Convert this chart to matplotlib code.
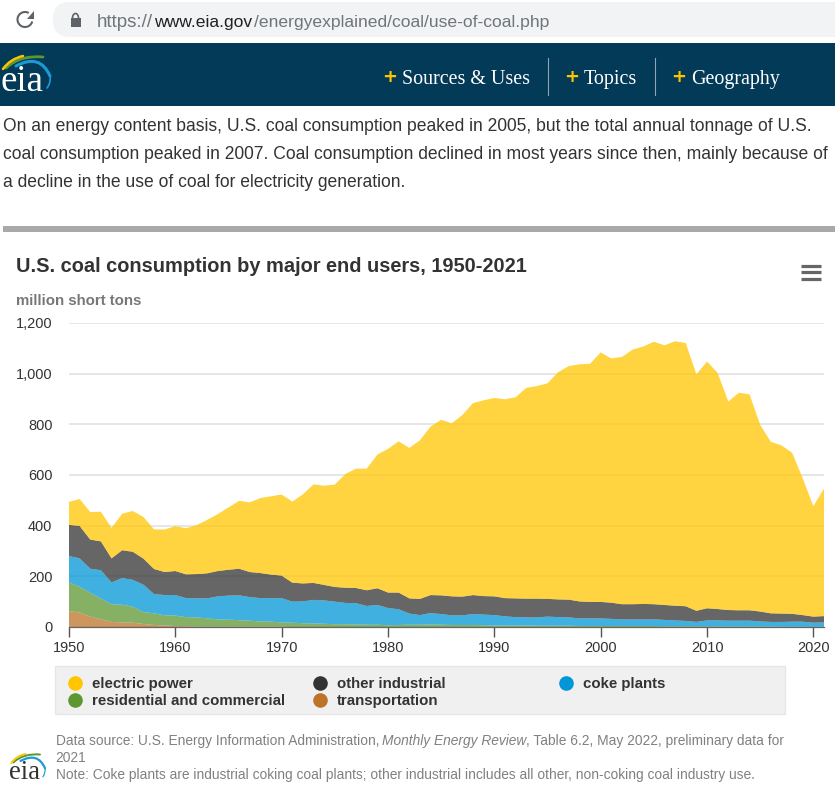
import numpy as np
import matplotlib
matplotlib.use('Agg')
import matplotlib.pyplot as plt
from matplotlib.patches import Rectangle, FancyBboxPatch, Arc, Polygon, PathPatch
from matplotlib.path import Path

W, H = 835, 797

years = list(range(1950, 2022))

transportation = [63, 57, 41, 30, 20, 18, 17, 12, 8, 6, 4, 3, 2, 1, 1, 1, 1, 1, 1, 1, 1,
                  0, 0, 0, 0, 0, 0, 0, 0, 0, 0, 0, 0, 0, 0, 0, 0, 0, 0, 0,
                  0, 0, 0, 0, 0, 0, 0, 0, 0, 0, 0, 0, 0, 0, 0, 0, 0, 0, 0, 0,
                  0, 0, 0, 0, 0, 0, 0, 0, 0, 0, 0, 0]
residential = [113, 102, 94, 82, 70, 70, 63, 47, 46, 40, 41, 36, 36, 33, 29, 28, 26, 24, 21, 20,
               17, 17, 15, 14, 13, 11, 11, 10, 9, 9, 7, 8, 9, 9, 10, 9, 8, 8, 8, 7,
               6, 6, 6, 6, 5, 5, 5, 5, 4, 4, 4, 4, 4, 4, 4, 4, 3, 3, 3, 3,
               3, 2, 2, 2, 2, 2, 2, 1, 1, 1, 1, 1]
coke_plants = [104, 112, 95, 112, 86, 105, 106, 108, 76, 80, 81, 75, 75, 79, 91, 95, 98, 93, 92, 93,
               96, 83, 86, 93, 92, 89, 84, 84, 74, 78, 68, 62, 44, 38, 45, 42, 38, 38, 43, 42,
               41, 36, 33, 32, 33, 36, 34, 33, 30, 30, 30, 28, 26, 26, 26, 26, 25, 23, 21, 17,
               23, 24, 23, 23, 23, 20, 18, 19, 20, 20, 16, 17]
other_industrial = [123, 128, 115, 114, 95, 110, 111, 103, 99, 91, 95, 94, 96, 99, 100, 102, 105, 99, 99, 93,
                    89, 75, 71, 67, 61, 58, 60, 60, 62, 66, 61, 66, 60, 64, 71, 74, 75, 74, 75, 73,
                    74, 72, 74, 74, 74, 70, 70, 70, 67, 65, 65, 64, 60, 60, 61, 60, 59, 58, 58, 44,
                    48, 45, 42, 41, 41, 39, 34, 33, 31, 26, 24, 25]
electric_power = [91, 106, 109, 117, 120, 144, 161, 164, 156, 168, 177, 182, 193, 211, 225, 246, 268, 275, 296, 309,
                  320, 320, 352, 389, 392, 404, 449, 471, 480, 528, 567, 597, 594, 626, 665, 693, 683, 717, 758, 773,
                  783, 785, 794, 832, 839, 851, 897, 922, 936, 940, 985, 964, 976, 1005, 1016, 1036, 1025, 1044, 1039, 933,
                  974, 932, 823, 859, 852, 737, 677, 664, 636, 540, 436, 503]

colors = ['#bd732a', '#5d9732', '#0096d7', '#333333', '#ffc600']
y_ticks = [0, 200, 400, 600, 800, 1000, 1200]
y_labels = ['0', '200', '400', '600', '800', '1,000', '1,200']
x_ticks = [1950, 1960, 1970, 1980, 1990, 2000, 2010, 2020]

SANS = 'Liberation Sans'
SERIF = 'Liberation Serif'


def px(size):
    return size * 0.72


def swoosh(ax, x, y, scale, pts, color, lw):
    # quadratic curve through 3 points given relative to the logo origin
    verts = [(x + a * scale, y + b * scale) for a, b in pts]
    ax.add_patch(PathPatch(Path(verts, [Path.MOVETO, Path.CURVE3, Path.CURVE3]), fc='none', ec=color,
                           lw=lw * scale, capstyle='round'))


def eia_logo(ax, x, y, scale, color):
    # x, y is the left end of the word's baseline
    ax.text(x, y, 'eia', family=SERIF, fontsize=px(37 * scale), color=color, va='baseline', ha='left')
    swoosh(ax, x, y, scale, [(16, -25), (40, -38), (50, -15)], '#1c9ad6', 2.2)
    swoosh(ax, x, y, scale, [(50, -15), (51, -8), (47, -3)], '#1c9ad6', 1.2)
    swoosh(ax, x, y, scale, [(6, -23), (20, -36), (43, -34)], '#5d9732', 2)
    swoosh(ax, x, y, scale, [(3, -22), (10, -32), (23, -35)], '#ffc600', 1.8)


fig = plt.figure(figsize=(W / 100, H / 100), dpi=100, facecolor='white')

# chart
ax = fig.add_axes([69 / W, 1 - 627 / H, (824 - 69) / W, (627 - 323) / H])
ax.stackplot(years, transportation, residential, coke_plants, other_industrial, electric_power,
             colors=colors, alpha=0.75, linewidth=0, zorder=3)
ax.set_xlim(1950, 2021)
ax.set_ylim(0, 1200)
ax.set_xticks(x_ticks)
ax.set_yticks(y_ticks)
ax.set_yticklabels(y_labels)
ax.grid(axis='y', color='#e6e6e6', lw=1.4, zorder=1)
ax.set_axisbelow(True)
for name in ['top', 'right', 'left']:
    ax.spines[name].set_visible(False)
ax.spines['bottom'].set_color('#666666')
ax.spines['bottom'].set_linewidth(0.9)
ax.spines['bottom'].set_zorder(5)
ax.tick_params(axis='x', length=7, width=1, color='#555555', labelsize=px(14.5), labelcolor='#333333', pad=3)
ax.tick_params(axis='y', length=0, labelsize=px(14.5), labelcolor='#333333', pad=12)
for lab in ax.get_xticklabels() + ax.get_yticklabels():
    lab.set_family(SANS)

# everything around the chart, in screenshot pixels
pg = fig.add_axes([0, 0, 1, 1], zorder=10)
pg.set_xlim(0, W)
pg.set_ylim(H, 0)
pg.axis('off')
pg.patch.set_alpha(0)

# browser bar
pg.add_patch(FancyBboxPatch((53, 2), 820, 35, boxstyle='round,pad=0,rounding_size=17', fc='#f1f3f4', ec='none'))
pg.add_patch(Arc((25, 19.5), 15, 15, theta1=15, theta2=300, color='#5f6368', lw=1.5))
pg.add_patch(Polygon([(34, 11), (34, 19), (26.5, 19)], fc='#5f6368', ec='none'))
pg.add_patch(Rectangle((70.5, 18), 10, 9, fc='#5f6368', ec='none'))
pg.add_patch(Arc((75.5, 18), 6, 9, theta1=180, theta2=360, color='#5f6368', lw=1.2))
url_parts = [(97, 'https://', '#70757a', 18.8), (154, 'www.eia.gov', '#202124', 17.5),
             (254.5, '/energyexplained/coal/use-of-coal.php', '#70757a', 17.5)]
for x, part, c, size in url_parts:
    pg.text(x, 26.5, part, family=SANS, fontsize=px(size), color=c, va='baseline')

# site header
pg.add_patch(Rectangle((0, 43), W, 63, fc='#023a57', ec='none'))
eia_logo(pg, 0, 91, 1, 'white')
for x, label, tx in [(390, 'Sources & Uses', 402), (572, 'Topics', 584), (679, 'Geography', 691)]:
    pg.text(x, 77, '+', family='DejaVu Sans', fontweight='bold', fontsize=px(18), color='#ffc400', ha='center', va='center')
    pg.text(tx, 84, label, family=SERIF, fontsize=px(20), color='white', va='baseline')
pg.plot([548, 548], [58, 95], color='#8fa6b3', lw=0.8)
pg.plot([655, 655], [58, 95], color='#8fa6b3', lw=0.8)

# intro paragraph
intro = ['On an energy content basis, U.S. coal consumption peaked in 2005, but the total annual tonnage of U.S.',
         'coal consumption peaked in 2007. Coal consumption declined in most years since then, mainly because of',
         'a decline in the use of coal for electricity generation.']
for i, line in enumerate(intro):
    pg.text(3, 131 + i * 28, line, family=SANS, fontsize=px(17.52), color='#333333', va='baseline')
pg.add_patch(Rectangle((3, 226), W, 6, fc='#a9a9a9', ec='none'))

# chart title
pg.text(16, 272, 'U.S. coal consumption by major end users, 1950-2021', family=SANS, fontweight='bold',
        fontsize=px(19.95), color='#333333', va='baseline')
pg.text(16, 305, 'million short tons', family=SANS, fontweight='bold', fontsize=px(15), color='#777777', va='baseline')
for y in [265.5, 272, 278.5]:
    pg.plot([800.5, 820.5], [y, y], color='#666666', lw=2.3, solid_capstyle='butt')

# legend
pg.add_patch(Rectangle((55, 665.5), 730, 48, fc='#f0f0f0', ec='#e6e6e6', lw=1))
legend_rows = [(75, 683, colors[4], 'electric power'), (320, 683, colors[3], 'other industrial'),
               (566, 683, colors[2], 'coke plants'), (75, 700, colors[1], 'residential and commercial'),
               (320, 700, colors[0], 'transportation')]
for x, y, c, label in legend_rows:
    pg.plot([x], [y], 'o', ms=10.5, color=c, mec='none')
    pg.text(x + 17, y + 5, label, family=SANS, fontweight='bold', fontsize=px(15), color='#333333', va='baseline')

# source notes
eia_logo(pg, 9, 779, 0.72, '#333333')
note_font = dict(family=SANS, fontsize=px(13.72), color='#808080', va='baseline')
pg.text(55.5, 745.5, 'Data source: U.S. Energy Information Administration,', **note_font)
pg.text(382, 745.5, 'Monthly Energy Review', style='italic', **note_font)
pg.text(526, 745.5, ', Table 6.2, May 2022, preliminary data for', **note_font)
pg.text(55.5, 762.5, '2021', **note_font)
pg.text(55.5, 779.5, 'Note: Coke plants are industrial coking coal plants; other industrial includes all other, non-coking coal industry use.', **note_font)

fig.savefig('out.png', dpi=100)
